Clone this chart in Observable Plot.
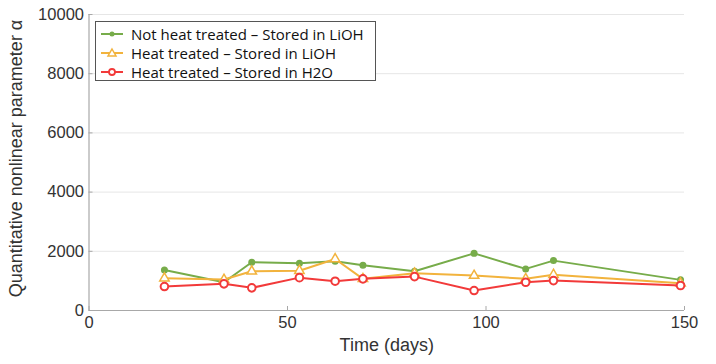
<!DOCTYPE html>
<html>
<head>
<meta charset="utf-8">
<script src="https://cdn.jsdelivr.net/npm/d3@7"></script>
<script src="https://cdn.jsdelivr.net/npm/@observablehq/plot@0.6"></script>
<style>
  html, body { margin: 0; padding: 0; background: #fff; }
  #wrap { position: relative; width: 716px; height: 364px; }
  #legend { position: absolute; left: 95px; top: 21px; width: 279px; height: 58px;
    border: 1.5px solid #555; background: #fff; box-sizing: content-box;
    font-family: "Open Sans", sans-serif; font-size: 15px; color: #111; }
  .row { position: absolute; left: 0; height: 20px; display: flex; align-items: center; white-space: nowrap; }
  .row svg { margin-left: 3px; margin-right: 6px; }
</style>
</head>
<body>
<div id="wrap"></div>
<script>
const days = [19, 34, 41, 53, 62, 69, 82, 97, 110, 117, 149];
const seriesNames = [
  "Not heat treated – Stored in LiOH",
  "Heat treated – Stored in LiOH",
  "Heat treated – Stored in H2O"
];
const notHeatLiOH = [1370, 955, 1630, 1595, 1660, 1530, 1325, 1930, 1405, 1685, 1035];
const heatLiOH    = [1090, 1045, 1325, 1345, 1740, 1070, 1255, 1180, 1070, 1210, 920];
const heatH2O     = [810, 900, 765, 1110, 990, 1070, 1145, 675, 955, 1010, 845];
const colors = ["#77ac4a", "#f2b33d", "#f23a3a"];
const xTicks = [0, 50, 100, 150];
const yTicks = [0, 2000, 4000, 6000, 8000, 10000];

const rows = [];
[notHeatLiOH, heatLiOH, heatH2O].forEach((vals, s) => {
  vals.forEach((v, i) => rows.push({series: seriesNames[s], day: days[i], value: v}));
});
const bySeries = name => rows.filter(r => r.series === name);

const chart = Plot.plot({
  width: 716,
  height: 364,
  marginLeft: 88.5,
  marginRight: 32,
  marginTop: 14,
  marginBottom: 54,
  style: {fontFamily: "'Liberation Sans', Arial, sans-serif", fontSize: "16.5px", color: "#333", background: "#fff"},
  x: {domain: [0, 150], ticks: xTicks},
  y: {domain: [0, 10000], ticks: yTicks},
  marks: [
    Plot.gridY(yTicks, {stroke: "#e6e6e6", strokeOpacity: 1}),
    Plot.ruleY([0], {stroke: "#a8a8a8", strokeWidth: 1.2}),
    Plot.ruleX([0], {stroke: "#a8a8a8", strokeWidth: 1.2}),
    Plot.axisX({ticks: xTicks, tickSize: -4, stroke: "#a8a8a8", tickPadding: 10, label: null, fill: "#333", tickFormat: d => String(d)}),
    Plot.axisY({ticks: yTicks, tickSize: -4, stroke: "#a8a8a8", tickPadding: 9, label: null, fill: "#333", tickFormat: d => String(d)}),
    Plot.text(["Time (days)"], {frameAnchor: "bottom", dy: 40, fontSize: 18, fill: "#333", text: d => d}),
    Plot.text(["Quantitative nonlinear parameter α"], {frameAnchor: "left", textAnchor: "middle", dx: -73, dy: -4, rotate: -90, fontSize: 18, fill: "#333", text: d => d}),
    // Not heat treated – LiOH
    Plot.line(bySeries(seriesNames[0]), {x: "day", y: "value", stroke: colors[0], strokeWidth: 2}),
    Plot.dot(bySeries(seriesNames[0]), {x: "day", y: "value", fill: colors[0], r: 3.5}),
    // Heat treated – LiOH
    Plot.line(bySeries(seriesNames[1]), {x: "day", y: "value", stroke: colors[1], strokeWidth: 2}),
    Plot.dot(bySeries(seriesNames[1]), {x: "day", y: "value", symbol: "triangle", stroke: colors[1], fill: "#fff", strokeWidth: 1.5, r: 3.5}),
    // Heat treated – H2O
    Plot.line(bySeries(seriesNames[2]), {x: "day", y: "value", stroke: colors[2], strokeWidth: 2}),
    Plot.dot(bySeries(seriesNames[2]), {x: "day", y: "value", stroke: colors[2], fill: "#fff", strokeWidth: 2, r: 3.8})
  ]
});

const wrap = document.getElementById("wrap");
wrap.appendChild(chart);

// Legend
const legend = document.createElement("div");
legend.id = "legend";
const markerSvg = [
  c => `<line x1="2" y1="10" x2="24" y2="10" stroke="${c}" stroke-width="2"/><circle cx="13" cy="10" r="2.5" fill="${c}"/>`,
  c => `<line x1="2" y1="10" x2="24" y2="10" stroke="${c}" stroke-width="2"/><path d="M13,6 L17,13 L9,13 Z" fill="#fff" stroke="${c}" stroke-width="1.5"/>`,
  c => `<line x1="2" y1="10" x2="24" y2="10" stroke="${c}" stroke-width="2"/><circle cx="13" cy="10" r="3" fill="#fff" stroke="${c}" stroke-width="1.8"/>`
];
const rowTops = [2, 21, 40];
seriesNames.forEach((name, i) => {
  const row = document.createElement("div");
  row.className = "row";
  row.style.top = rowTops[i] + "px";
  row.innerHTML = `<svg width="26" height="20">${markerSvg[i](colors[i])}</svg><span>${name}</span>`;
  legend.appendChild(row);
});
wrap.appendChild(legend);
</script>
</body>
</html>
